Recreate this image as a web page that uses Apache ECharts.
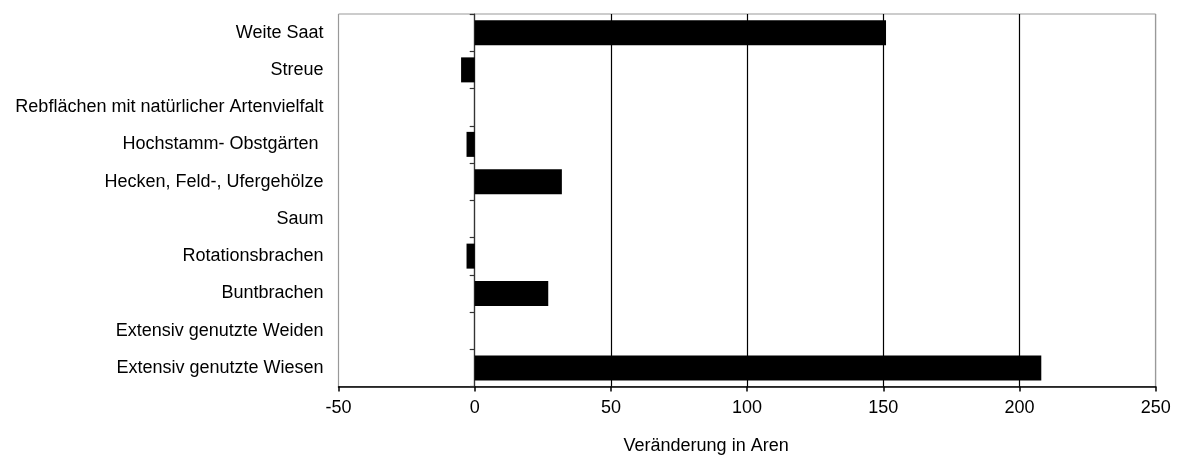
<!DOCTYPE html>
<html>
<head>
<meta charset="utf-8">
<script src="https://cdn.jsdelivr.net/npm/echarts@6/dist/echarts.min.js"></script>
<style>
html,body{margin:0;padding:0;background:#fff;}
#chart{width:1182px;height:455px;}
</style>
</head>
<body>
<div id="chart"></div>
<script>
const categories = [
  'Weite Saat',
  'Streue',
  'Rebflächen mit natürlicher Artenvielfalt',
  'Hochstamm- Obstgärten ',
  'Hecken, Feld-, Ufergehölze',
  'Saum',
  'Rotationsbrachen',
  'Buntbrachen',
  'Extensiv genutzte Weiden',
  'Extensiv genutzte Wiesen'
];
const values = [151, -5, 0, -3, 32, 0, -3, 27, 0, 208];
const axisName = 'Veränderung in Aren';
const xMin = -50, xMax = 250, xStep = 50;

const FONT = '"Liberation Sans", Arial, sans-serif';
const chart = echarts.init(document.getElementById('chart'), null, {renderer: 'canvas'});
chart.setOption({
  animation: false,
  backgroundColor: '#fff',
  grid: {
    left: 338.5, right: 26.3, top: 14, bottom: 68.5,
    containLabel: false, outerBoundsMode: 'none',
    show: true, borderColor: '#999', borderWidth: 1, backgroundColor: 'transparent'
  },
  xAxis: {
    type: 'value', min: xMin, max: xMax, interval: xStep,
    name: axisName, nameLocation: 'middle', nameGap: 51,
    nameTextStyle: {fontFamily: FONT, fontSize: 18, color: '#000', padding: [0, 82, 0, 0]},
    axisLine: {show: true, onZero: false, lineStyle: {color: '#000', width: 1.5}},
    axisTick: {show: true, length: 5, lineStyle: {color: '#000', width: 1.5}},
    axisLabel: {fontFamily: FONT, fontSize: 18, color: '#000', margin: 13},
    splitLine: {show: true, lineStyle: {color: ['#999', '#333', '#000', '#000', '#000', '#000', '#999'], width: 1.2}}
  },
  yAxis: {
    type: 'category', data: categories, inverse: true,
    axisLine: {show: true, onZero: true, lineStyle: {color: '#333', width: 1.2}},
    axisTick: {show: true, length: 5, lineStyle: {color: '#333', width: 1.2}},
    axisLabel: {fontFamily: FONT, fontSize: 18, color: '#000', margin: 15},
    splitLine: {show: false}
  },
  series: [{
    type: 'bar',
    data: values,
    barWidth: 25,
    itemStyle: {color: '#000'},
    silent: true
  }]
});
</script>
</body>
</html>
